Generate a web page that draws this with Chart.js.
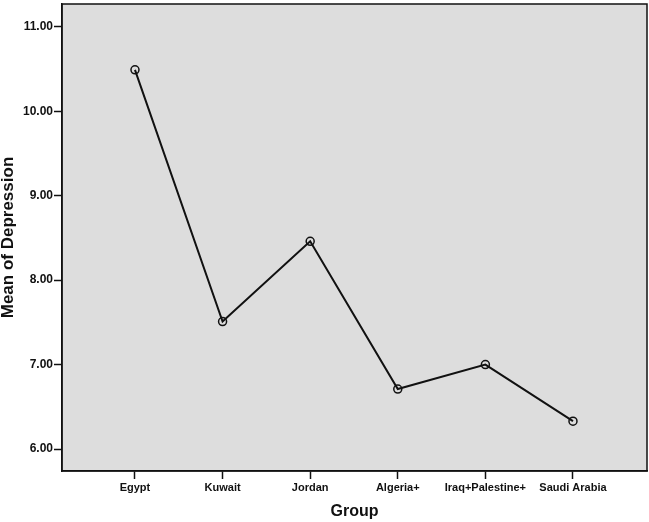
<!DOCTYPE html>
<html>
<head>
<meta charset="utf-8">
<script src="https://cdn.jsdelivr.net/npm/chart.js@4.4.1/dist/chart.umd.min.js"></script>
<style>
  body { margin: 0; background: #fff; }
  #wrap { width: 649px; height: 522px; }
</style>
</head>
<body>
<div id="wrap"><canvas id="chart" width="649" height="522"></canvas></div>
<script>
const groups = ['Egypt', 'Kuwait', 'Jordan', 'Algeria+', 'Iraq+Palestine+', 'Saudi Arabia'];
const means = [10.49, 7.51, 8.46, 6.71, 7.00, 6.33];
const yTicks = [6, 7, 8, 9, 10, 11];

const FONT = '"Liberation Sans", Arial, sans-serif';

// grey plot area + black frame like the SPSS output
const plotFrame = {
    id: 'plotFrame',
    beforeDraw(chart) {
        const { ctx, chartArea: a } = chart;
        ctx.save();
        ctx.fillStyle = '#dddddd';
        ctx.fillRect(a.left, a.top, a.right - a.left, a.bottom - a.top);
        ctx.restore();
    },
    afterDatasetsDraw(chart) {
        const { ctx, chartArea: a } = chart;
        ctx.save();
        ctx.strokeStyle = '#111';
        ctx.lineWidth = 1.5;
        ctx.strokeRect(a.left, a.top, a.right - a.left, a.bottom - a.top);
        ctx.restore();
    }
};

new Chart(document.getElementById('chart'), {
    type: 'line',
    data: {
        datasets: [{
            data: groups.map((g, i) => ({ x: i, y: means[i] })),
            borderColor: '#111',
            borderWidth: 2,
            pointRadius: 4,
            pointBorderWidth: 1.5,
            pointBorderColor: '#111',
            pointBackgroundColor: 'rgba(0,0,0,0)',
            tension: 0
        }]
    },
    options: {
        responsive: false,
        animation: false,
        layout: { autoPadding: false, padding: { top: 4, right: 2, left: 0, bottom: 0 } },
        plugins: { legend: { display: false }, tooltip: { enabled: false } },
        scales: {
            x: {
                type: 'linear',
                min: -0.833,
                max: 5.845,
                afterBuildTicks: s => { s.ticks = groups.map((g, i) => ({ value: i })); },
                afterFit: s => { s.height = 51; s.paddingLeft = 0; s.paddingRight = 0; },
                grid: { drawOnChartArea: false, tickLength: 8, tickWidth: 1.5, tickColor: '#111' },
                border: { display: true, color: '#111', width: 1.5 },
                ticks: {
                    autoSkip: false,
                    maxRotation: 0,
                    padding: 2,
                    color: '#111',
                    font: { family: FONT, size: 11, weight: 'bold' },
                    callback: v => groups[v]
                },
                title: {
                    display: true,
                    text: 'Group',
                    color: '#111',
                    padding: { top: 0, bottom: 1 },
                    font: { family: FONT, size: 16, weight: 'bold' }
                }
            },
            y: {
                min: 5.74,
                max: 11.27,
                afterBuildTicks: s => { s.ticks = yTicks.map(v => ({ value: v })); },
                afterFit: s => { s.width = 62; s.paddingTop = 0; s.paddingBottom = 0; },
                grid: { drawOnChartArea: false, tickLength: 8, tickWidth: 1.5, tickColor: '#111' },
                border: { display: true, color: '#111', width: 1.5 },
                ticks: {
                    padding: 1,
                    color: '#111',
                    font: { family: FONT, size: 12, weight: 'bold' },
                    callback: v => v.toFixed(2)
                },
                title: {
                    display: true,
                    text: 'Mean of Depression',
                    color: '#111',
                    padding: { top: 0, bottom: 0 },
                    font: { family: FONT, size: 17, weight: 'bold', lineHeight: 1 }
                }
            }
        }
    },
    plugins: [plotFrame]
});
</script>
</body>
</html>
